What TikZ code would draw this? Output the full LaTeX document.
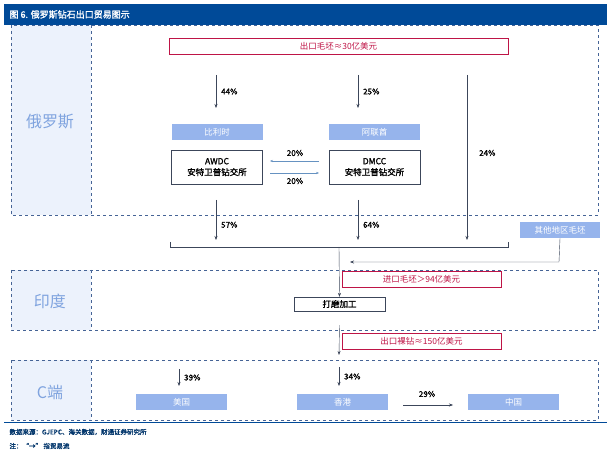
\documentclass[tikz,border=0pt]{standalone}
\usepackage{fontspec}
\usetikzlibrary{arrows.meta}
\setmainfont{Noto Sans CJK SC}
\newfontfamily\cjkbold{Noto Sans CJK SC}[FakeBold=1.5]
\definecolor{titleblue}{RGB}{0,74,152}
\definecolor{headblue}{RGB}{150,180,236}
\definecolor{paleblue}{RGB}{236,242,252}
\definecolor{frameblue}{RGB}{70,100,150}
\definecolor{tagred}{RGB}{190,20,70}
\definecolor{flowgray}{RGB}{60,70,90}
\tikzset{
  region/.style={draw=frameblue, dashed, line width=0.8pt},
  head/.style={fill=headblue, text=white, minimum width=91pt, minimum height=16pt, inner sep=0pt, font=\fontsize{8.5}{9}\selectfont},
  tag/.style={draw=tagred, text=tagred, minimum width=159pt, minimum height=16pt, inner sep=0pt, font=\fontsize{8.5}{9}\selectfont},
  work/.style={draw=flowgray, fill=white, inner sep=0pt, font=\cjkbold\fontsize{8.5}{11}\selectfont, align=center},
  pct/.style={font=\cjkbold\fontsize{8}{9}\selectfont, anchor=west, inner sep=1pt},
  flow/.style={draw=flowgray, -{Stealth[length=4pt]}},
  side/.style={text=headblue!85!titleblue, font=\fontsize{16}{18}\selectfont}
}
\begin{document}
\begin{tikzpicture}[x=1pt, y=-1pt]
  \useasboundingbox (0,0) rectangle (616,457);
  % title bar
  \fill[titleblue] (4,4) rectangle (607,25);
  \node[anchor=west, text=white, font=\cjkbold\fontsize{9}{10}\selectfont] (title) at (6,14.5) {图 6. 俄罗斯钻石出口贸易图示};

  % regions
  \foreach \top/\bot in {25/215, 270/330, 360/420} {
    \fill[paleblue] (11,\top) rectangle (91,\bot);
    \draw[region] (11,\top) rectangle (598,\bot);
    \draw[region] (91,\top) -- (91,\bot);
  }
  \node[side] (ru) at (50,122) {俄罗斯};
  \node[side] (in) at (50,301) {印度};
  \node[side] (cs) at (50,392) {C端};

  % Russia
  \node[tag, minimum width=339pt] (export) at (338.5,46) {出口毛坯≈30亿美元};
  \node[head] (be) at (217,132) {比利时};
  \node[head] (ae) at (374.5,132) {阿联酋};
  \node[work, minimum width=91pt, minimum height=34pt] (awdc) at (217,167) {AWDC\\安特卫普钻交所};
  \node[work, minimum width=91pt, minimum height=34pt] (dmcc) at (374.5,167) {DMCC\\安特卫普钻交所};

  \coordinate (a1) at (216,75);  \coordinate (a2) at (216,108);
  \coordinate (b1) at (358,75);  \coordinate (b2) at (358,108);
  \draw[flow] (a1) -- (a2) node[pct, midway, xshift=4pt] {44\%};
  \draw[flow] (b1) -- (b2) node[pct, midway, xshift=4pt] {25\%};
  \draw[flow] (467,75) -- (467,240);
  \node[pct] (p24) at (478,153) {24\%};

  \draw[-{Stealth[length=3pt]}, draw=titleblue!60] (319,161) -- (270,161);
  \draw[-{Stealth[length=3pt]}, draw=titleblue!60] (270,173) -- (319,173);
  \node[pct, anchor=center] (l1) at (295,153) {20\%};
  \node[pct, anchor=center] (l2) at (295,181) {20\%};

  \draw[flow] (216,200) -- (216,240) node[pct, pos=0.62, xshift=4pt] {57\%};
  \draw[flow] (358,200) -- (358,240) node[pct, pos=0.62, xshift=4pt] {64\%};

  % bracket
  \draw[flowgray] (170,242) -- (170,247) -- (508,247) -- (508,242);
  \coordinate (mid) at (339,247);

  \node[head, minimum width=80pt] (other) at (560,230) {其他地区毛坯};
  \draw[flow] (other.south) -- (559,262) -- (350,262);

  % India
  \node[tag] (import) at (421.5,279) {进口毛坯＞94亿美元};
  \node[work, minimum width=91pt, minimum height=14pt] (polish) at (339.5,304) {打磨加工};
  \draw[flow] (mid) -- (polish.north);
  \node[tag] (out) at (421.5,341) {出口裸钻≈150亿美元};
  \draw[flow] (polish.south) ++(0,14) -- (339,355);

  % consumers
  \node[head] (us) at (181.5,402) {美国};
  \node[head] (hk) at (342.5,402) {香港};
  \node[head] (cn) at (513.5,402) {中国};
  \draw[flow] (179,369) -- (179,386) node[pct, midway, xshift=4pt] {39\%};
  \draw[flow] (339,367) -- (339,386) node[pct, midway, xshift=4pt] {34\%};
  \draw[flow] (403,405) -- (453,405);
  \node[pct, anchor=center] (p29) at (427,394) {29\%};

  % footer
  \draw[titleblue, line width=0.6pt] (4,422) -- (607,422);
  \node[anchor=west, text=titleblue!70!black, font=\cjkbold\fontsize{6.5}{7}\selectfont] (src) at (6,432) {数据来源：GJEPC、海关数据，财通证券研究所};
  \node[anchor=west, text=titleblue!70!black, font=\cjkbold\fontsize{6.5}{7}\selectfont] (note) at (6,446) {注：“→” 指贸易流};
\end{tikzpicture}
\end{document}
